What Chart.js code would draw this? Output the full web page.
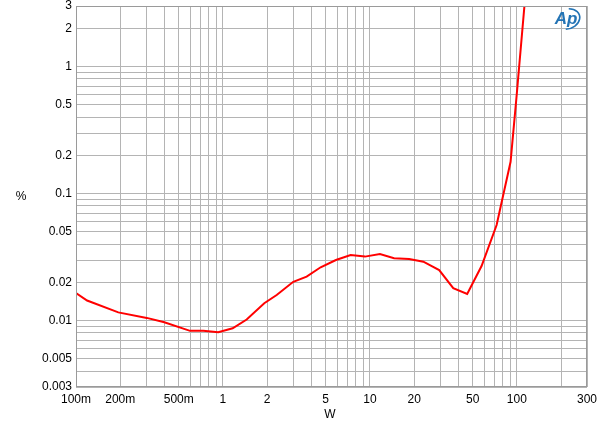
<!DOCTYPE html>
<html>
<head>
<meta charset="utf-8">
<script src="https://cdn.jsdelivr.net/npm/chart.js@4/dist/chart.umd.min.js"></script>
<style>
html,body{margin:0;padding:0;background:#fff;}
#wrap{width:600px;height:435px;position:relative;}
</style>
</head>
<body>
<div id="wrap"><canvas id="c" width="600" height="435"></canvas></div>
<script>
// Output power (W)
const watts = [0.1, 0.119, 0.194, 0.303, 0.399, 0.597, 0.735, 0.929, 1.164, 1.45, 1.91, 2.32, 3.01, 3.71, 4.62, 5.87, 7.39, 9.25, 11.7, 14.6, 18.5, 23.1, 29.6, 36.9, 45.9, 57.5, 72.8, 90.6, 100, 115];
// THD+N (%)
const thdPercent = [0.0165, 0.0144, 0.0116, 0.0105, 0.0097, 0.0083, 0.0083, 0.0081, 0.0087, 0.0102, 0.0137, 0.0159, 0.0202, 0.0222, 0.0263, 0.0300, 0.0328, 0.0319, 0.0334, 0.0310, 0.0306, 0.0291, 0.0250, 0.0180, 0.0162, 0.0269, 0.0566, 0.178, 0.62, 4.0];

const xGrid = [0.1,0.2,0.3,0.4,0.5,0.6,0.7,0.8,0.9,1,2,3,4,5,6,7,8,9,10,20,30,40,50,60,70,80,90,100,200,300];
const xLabels = {0.1:'100m',0.2:'200m',0.5:'500m',1:'1',2:'2',5:'5',10:'10',20:'20',50:'50',100:'100',300:'300'};
const yGrid = [0.003,0.004,0.005,0.006,0.007,0.008,0.009,0.01,0.02,0.03,0.04,0.05,0.06,0.07,0.08,0.09,0.1,0.2,0.3,0.4,0.5,0.6,0.7,0.8,0.9,1,2,3];
const yLabels = {0.003:'0.003',0.005:'0.005',0.01:'0.01',0.02:'0.02',0.05:'0.05',0.1:'0.1',0.2:'0.2',0.5:'0.5',1:'1',2:'2',3:'3'};

const points = watts.map((w,i)=>({x:w, y:thdPercent[i]}));
const lookup = (map, v) => { for (const k in map) { if (Math.abs(+k - v)/v < 1e-6) return map[k]; } return ''; };

const extras = {
  id:'extras',
  afterDraw(chart){
    const ctx = chart.ctx, a = chart.chartArea;
    ctx.save();
    ctx.strokeStyle = '#9a9a9a'; ctx.lineWidth = 1;
    ctx.strokeRect(a.left+0.5, a.top+0.5, a.right-a.left-1, a.bottom-a.top-1);
    ctx.fillStyle = '#000';
    ctx.font = '12px "Liberation Sans", Arial, sans-serif';
    ctx.textAlign = 'center'; ctx.textBaseline = 'middle';
    ctx.fillText('%', 21, 197);
    ctx.fillText('W', 330, 415);
    // AP logo
    ctx.fillStyle = '#2474b5';
    ctx.font = 'italic bold 17px "Liberation Sans", Arial, sans-serif';
    ctx.fillText('Ap', 566, 19);
    ctx.strokeStyle = '#2474b5'; ctx.lineWidth = 1.6;
    ctx.beginPath();
    ctx.ellipse(567, 19, 13, 10, -0.3, -1.2, 1.9);
    ctx.stroke();
    ctx.restore();
  }
};

new Chart(document.getElementById('c'), {
  type:'line',
  data:{ datasets:[{ data: points, borderColor:'#ff0000', borderWidth:2, pointRadius:0, tension:0, fill:false }] },
  options:{
    responsive:false, animation:false,
    layout:{ padding:{ top:6, right:13, left:0, bottom:0 } },
    plugins:{ legend:{display:false}, tooltip:{enabled:false} },
    scales:{
      x:{
        type:'logarithmic', min:0.1, max:300,
        afterBuildTicks(s){ s.ticks = xGrid.map(v=>({value:v})); },
        afterFit(s){ s.height = 48; s.paddingLeft = 0; s.paddingRight = 0; },
        grid:{ color:'#b4b4b4', lineWidth:1, drawTicks:false },
        border:{ display:false },
        ticks:{ autoSkip:false, maxRotation:0, minRotation:0, padding:5, color:'#000',
          font:{ family:'"Liberation Sans", Arial, sans-serif', size:12 },
          callback(v){ return lookup(xLabels, v); } }
      },
      y:{
        type:'logarithmic', min:0.003, max:3,
        afterBuildTicks(s){ s.ticks = yGrid.map(v=>({value:v})); },
        afterFit(s){ s.width = 76; s.paddingTop = 0; s.paddingBottom = 0; },
        grid:{ color:'#b4b4b4', lineWidth:1, drawTicks:false },
        border:{ display:false },
        ticks:{ autoSkip:false, padding:4, color:'#000',
          font:{ family:'"Liberation Sans", Arial, sans-serif', size:12 },
          callback(v){ return lookup(yLabels, v); } }
      }
    }
  },
  plugins:[extras]
});
</script>
</body>
</html>
